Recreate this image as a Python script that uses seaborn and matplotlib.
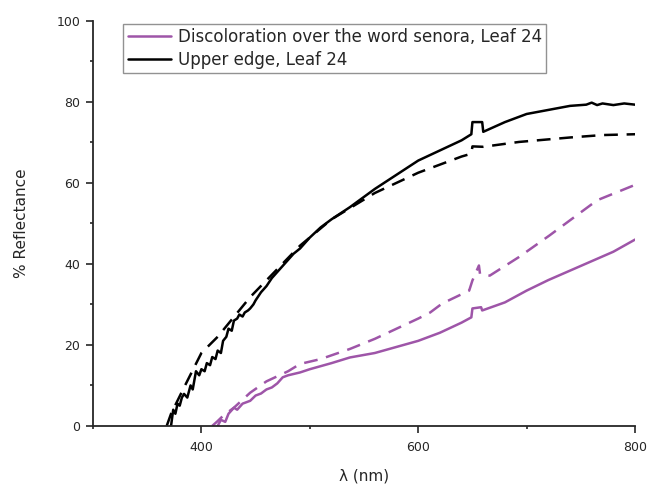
import matplotlib

matplotlib.use("Agg")

import matplotlib.pyplot as plt
import seaborn as sns
from matplotlib.ticker import MultipleLocator

# measured spectra, upper edge of leaf 24 (black) and discoloured area (purple)
edge_nm = [372, 374, 376, 378, 380, 382, 384, 387, 390, 392, 395, 398, 400, 403,
           405, 408, 410, 413, 415, 418, 420, 423, 425, 428, 430, 433, 435, 438,
           440, 443, 445, 448, 450, 455, 460, 465, 470, 475, 480, 485, 491, 500,
           510, 520, 537, 560, 580, 600, 620, 640, 649, 650, 659, 660, 680, 700,
           720, 740, 755, 760, 765, 770, 780, 790, 800]
edge_pct = [0.0, 4.0, 3.0, 5.5, 5.0, 7.0, 7.9, 7.0, 10.0, 9.0, 13.5, 12.5, 14.0,
            13.5, 15.5, 15.0, 17.0, 16.5, 18.6, 18.0, 21.0, 22.0, 24.0, 23.5,
            26.0, 26.5, 27.5, 27.0, 28.0, 28.5, 29.0, 30.0, 31.0, 33.0, 34.5,
            36.5, 38.0, 39.5, 41.0, 42.5, 43.8, 46.5, 49.0, 51.0, 54.0, 58.5,
            62.0, 65.5, 68.0, 70.5, 72.0, 75.0, 75.0, 72.6, 75.0, 77.0, 78.0,
            79.0, 79.3, 79.8, 79.2, 79.6, 79.2, 79.6, 79.3]

edge_fit_nm = [368, 372, 384, 400, 415, 445, 491, 520, 560, 600, 620, 640, 649,
               650, 660, 693, 740, 770, 800]
edge_fit_pct = [0.0, 3.0, 9.5, 18.0, 22.0, 31.8, 44.5, 51.0, 57.5, 62.5, 64.5,
                66.5, 67.2, 69.0, 68.9, 70.1, 71.2, 71.8, 72.0]

disc_nm = [415, 418, 422, 425, 430, 433, 438, 445, 450, 455, 460, 465, 470, 475,
           480, 491, 500, 520, 537, 560, 580, 600, 620, 640, 649, 650, 658, 659,
           680, 700, 720, 750, 780, 800]
disc_pct = [0.0, 1.5, 1.0, 3.0, 4.5, 4.0, 5.5, 6.2, 7.5, 8.0, 9.0, 9.5, 10.5,
            12.0, 12.5, 13.2, 14.0, 15.5, 16.9, 18.0, 19.5, 21.0, 23.0, 25.5,
            26.8, 29.0, 29.3, 28.5, 30.5, 33.4, 36.0, 39.5, 43.0, 46.0]

disc_fit_nm = [410, 415, 420, 430, 445, 460, 480, 491, 510, 537, 560, 580, 600,
               611, 622, 647, 650, 656, 657, 666, 693, 721, 765, 800]
disc_fit_pct = [0.0, 1.2, 2.5, 4.5, 8.2, 11.0, 13.5, 15.3, 16.5, 19.0, 21.5,
                24.0, 26.5, 28.0, 30.2, 33.4, 35.9, 39.6, 37.5, 37.1, 41.7, 47.0,
                55.7, 59.5]

PURPLE = "#9e55a8"
DASH = (5.5, 3.5)

sns.set_style("ticks")
plt.rcParams["font.family"] = ["DejaVu Sans"]

fig, ax = plt.subplots(figsize=(6.48, 4.84), dpi=100)
fig.subplots_adjust(left=0.1435, right=0.98, bottom=0.12, top=0.957)

sns.lineplot(x=disc_nm, y=disc_pct, color=PURPLE, lw=1.8, ax=ax,
             label="Discoloration over the word senora, Leaf 24")
sns.lineplot(x=edge_nm, y=edge_pct, color="black", lw=1.8, ax=ax,
             label="Upper edge, Leaf 24")
sns.lineplot(x=disc_fit_nm, y=disc_fit_pct, color=PURPLE, lw=1.8, ax=ax,
             linestyle="--")
sns.lineplot(x=edge_fit_nm, y=edge_fit_pct, color="black", lw=1.8, ax=ax,
             linestyle="--")
for ln in ax.lines[2:]:
    ln.set_dashes(DASH)

ax.set_xlim(300, 800)
ax.set_ylim(0, 100)
ax.xaxis.set_major_locator(MultipleLocator(200))
ax.xaxis.set_minor_locator(MultipleLocator(100))
ax.yaxis.set_major_locator(MultipleLocator(20))
ax.yaxis.set_minor_locator(MultipleLocator(10))
ax.tick_params(which="major", length=5, width=1.2, labelsize=9)
ax.tick_params(axis="x", which="major", pad=6)
ax.tick_params(axis="y", which="major", pad=4)
ax.tick_params(which="minor", length=2.5, width=1.2)
for side in ("left", "bottom"):
    ax.spines[side].set_linewidth(1.3)
sns.despine(ax=ax)

ax.set_xlabel("λ (nm)", fontsize=11, labelpad=10)
ax.set_ylabel("% Reflectance", fontsize=11, labelpad=20)

leg = ax.legend(loc="upper left", bbox_to_anchor=(0.05, 1.0), fontsize=12,
                frameon=True, fancybox=False, edgecolor="#777777",
                handlelength=2.6, borderpad=0.25, labelspacing=0.3,
                handletextpad=0.4, borderaxespad=0.2)
leg.get_frame().set_linewidth(1.0)

fig.savefig("out.png", dpi=100)
